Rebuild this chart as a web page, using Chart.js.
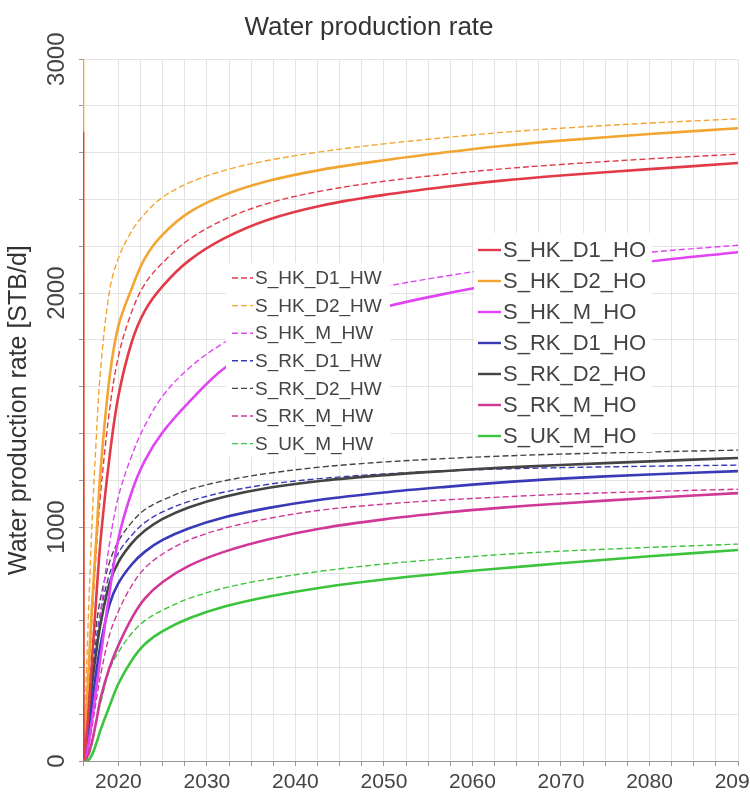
<!DOCTYPE html>
<html>
<head>
<meta charset="utf-8">
<script src="https://cdn.jsdelivr.net/npm/chart.js@4/dist/chart.umd.min.js"></script>
<style>
  html, body { margin: 0; padding: 0; background: #fff; }
</style>
</head>
<body>
<canvas id="waterChart" width="750" height="801"></canvas>
<script>
// time axis (years) shared by every series
const years = [2016, 2016.05, 2016.5, 2017, 2017.5, 2018, 2019, 2020, 2021.5, 2023, 2025, 2028, 2032, 2037, 2043, 2050, 2057, 2063, 2070, 2080, 2090];

// HW cases (dashed)
const hkD1HW = [2690, 0, 250, 600, 900, 1150, 1500, 1730, 1920, 2040, 2130, 2230, 2315, 2385, 2437, 2478, 2508, 2530, 2550, 2574, 2594];
const hkD2HW = [3050, 0, 500, 1000, 1380, 1680, 2010, 2150, 2265, 2340, 2410, 2472, 2525, 2568, 2605, 2638, 2665, 2686, 2705, 2727, 2745];
const hkMHW  = [0, 0, 100, 280, 460, 640, 930, 1130, 1305, 1435, 1560, 1680, 1790, 1885, 1965, 2027, 2073, 2107, 2140, 2175, 2205];
const rkD1HW = [0, 0, 160, 370, 520, 640, 800, 890, 965, 1020, 1065, 1110, 1150, 1183, 1208, 1227, 1240, 1248, 1254, 1260, 1265];
const rkD2HW = [0, 0, 200, 420, 580, 700, 850, 940, 1020, 1075, 1115, 1160, 1198, 1230, 1257, 1278, 1293, 1303, 1312, 1321, 1329];
const rkMHW  = [0, 0, 40, 140, 260, 370, 540, 640, 750, 825, 885, 945, 995, 1037, 1073, 1098, 1116, 1128, 1140, 1152, 1162];
const ukMHW  = [0, 0, 10, 70, 170, 250, 390, 465, 545, 600, 645, 695, 740, 778, 812, 842, 865, 882, 897, 913, 927];

// HO cases (solid)
const hkD1HO = [2690, 0, 150, 420, 700, 950, 1300, 1560, 1790, 1925, 2030, 2140, 2235, 2315, 2375, 2420, 2455, 2480, 2503, 2530, 2556];
const hkD2HO = [3050, 0, 300, 650, 950, 1250, 1640, 1860, 2020, 2150, 2250, 2345, 2420, 2480, 2528, 2568, 2602, 2628, 2652, 2680, 2705];
const hkMHO  = [0, 0, 50, 170, 310, 450, 720, 950, 1150, 1285, 1405, 1535, 1680, 1785, 1868, 1940, 1998, 2040, 2083, 2135, 2175];
const rkD1HO = [0, 0, 90, 240, 380, 500, 670, 760, 840, 895, 945, 995, 1042, 1082, 1118, 1148, 1172, 1190, 1207, 1225, 1239];
const rkD2HO = [0, 0, 130, 320, 470, 590, 760, 850, 930, 985, 1035, 1085, 1130, 1168, 1198, 1222, 1240, 1253, 1265, 1281, 1295];
const rkMHO  = [0, 0, 20, 80, 170, 270, 400, 495, 610, 695, 765, 835, 895, 948, 995, 1033, 1062, 1082, 1101, 1124, 1145];
const ukMHO  = [0, 0, 0, 25, 75, 135, 235, 330, 430, 500, 555, 610, 660, 703, 742, 776, 803, 823, 845, 875, 902];

const hwLabels = ["S_HK_D1_HW", "S_HK_D2_HW", "S_HK_M_HW", "S_RK_D1_HW", "S_RK_D2_HW", "S_RK_M_HW", "S_UK_M_HW"];
const hoLabels = ["S_HK_D1_HO", "S_HK_D2_HO", "S_HK_M_HO", "S_RK_D1_HO", "S_RK_D2_HO", "S_RK_M_HO", "S_UK_M_HO"];
const hwValues = [hkD1HW, hkD2HW, hkMHW, rkD1HW, rkD2HW, rkMHW, ukMHW];
const hoValues = [hkD1HO, hkD2HO, hkMHO, rkD1HO, rkD2HO, rkMHO, ukMHO];
const caseColors = ["#e23a48", "#f2a531", "#e044f4", "#3a3ab8", "#444444", "#d03898", "#3cc43c"];

const xTickLabels = [2020, 2030, 2040, 2050, 2060, 2070, 2080, 2090];
const yTickLabels = [0, 1000, 2000, 3000];

const FONT = "'Liberation Sans', Arial, sans-serif";

function toPoints(vals) {
   return vals.map((v, i) => ({ x: years[i], y: v }));
}

const datasets = [];
hoValues.forEach((vals, i) => {
   datasets.push({
      label: hoLabels[i],
      data: toPoints(vals),
      borderColor: caseColors[i],
      borderWidth: 2.6,
      pointRadius: 0,
      tension: 0.35,
      legendGroup: "HO",
   });
});
hwValues.forEach((vals, i) => {
   datasets.push({
      label: hwLabels[i],
      data: toPoints(vals),
      borderColor: caseColors[i],
      borderWidth: 1.4,
      borderDash: [6, 3],
      pointRadius: 0,
      tension: 0.35,
      legendGroup: "HW",
   });
});

// two legend boxes drawn inside the plot, white boxes cover the curves
const insideLegends = {
   id: "insideLegends",
   afterDatasetsDraw(chart) {
      const ctx = chart.ctx;
      const boxes = [
         { group: "HW", rect: [226, 263, 164, 194], x0: 232, y0: 278, step: 27.6, sample: 21, size: 19 },
         { group: "HO", rect: [474, 233, 178, 219], x0: 478, y0: 250, step: 31, sample: 23, size: 22 },
      ];
      ctx.save();
      boxes.forEach((b) => {
         ctx.fillStyle = "#ffffff";
         ctx.fillRect(b.rect[0], b.rect[1], b.rect[2], b.rect[3]);
         const items = chart.data.datasets.filter((d) => d.legendGroup === b.group);
         items.forEach((d, i) => {
            const y = b.y0 + i * b.step;
            ctx.strokeStyle = d.borderColor;
            ctx.lineWidth = d.borderDash ? 1.4 : 2.4;
            ctx.setLineDash(d.borderDash || []);
            ctx.beginPath();
            ctx.moveTo(b.x0, y);
            ctx.lineTo(b.x0 + b.sample, y);
            ctx.stroke();
            ctx.setLineDash([]);
            ctx.fillStyle = "#444";
            ctx.font = b.size + "px " + FONT;
            ctx.textBaseline = "middle";
            ctx.textAlign = "left";
            ctx.fillText(d.label, b.x0 + b.sample + 2, y + 1);
         });
      });
      ctx.restore();
   },
};

new Chart(document.getElementById("waterChart"), {
   type: "line",
   data: { datasets: datasets },
   options: {
      responsive: false,
      animation: false,
      devicePixelRatio: 1,
      layout: { padding: { left: 0, right: 12, top: 0, bottom: 0 } },
      plugins: {
         legend: { display: false },
         tooltip: { enabled: false },
         title: {
            display: true,
            text: "Water production rate",
            color: "#333",
            font: { family: FONT, size: 26, weight: "normal" },
            padding: { top: 12, bottom: 16 },
         },
      },
      scales: {
         x: {
            type: "linear",
            min: 2016,
            max: 2090,
            grid: { color: "#e3e3e3", tickColor: "#999", tickLength: 5 },
            border: { color: "#999" },
            ticks: {
               stepSize: 2.5,
               autoSkip: false,
               maxRotation: 0,
               padding: 4,
               color: "#444",
               font: { family: FONT, size: 21 },
               callback: (v) => (xTickLabels.includes(v) ? String(v) : ""),
            },
            afterFit: (s) => {
               s.height = 40;
               s.paddingLeft = 0;
               s.paddingRight = 0;
            },
         },
         y: {
            min: 0,
            max: 3000,
            grid: { color: "#e3e3e3", tickColor: "#999", tickLength: 4 },
            border: { color: "#999" },
            ticks: {
               stepSize: 200,
               autoSkip: false,
               minRotation: 90,
               maxRotation: 90,
               crossAlign: "center",
               padding: -5,
               color: "#444",
               font: { family: FONT, size: 24 },
               callback: (v) => (yTickLabels.includes(v) ? String(v) : ""),
            },
            title: {
               display: true,
               text: "Water production rate [STB/d]",
               color: "#333",
               font: { family: FONT, size: 25 },
               padding: { top: 4, bottom: 0 },
            },
            afterFit: (s) => {
               s.width = 83;
               s.paddingTop = 0;
               s.paddingBottom = 0;
            },
         },
      },
   },
   plugins: [insideLegends],
});
</script>
</body>
</html>
